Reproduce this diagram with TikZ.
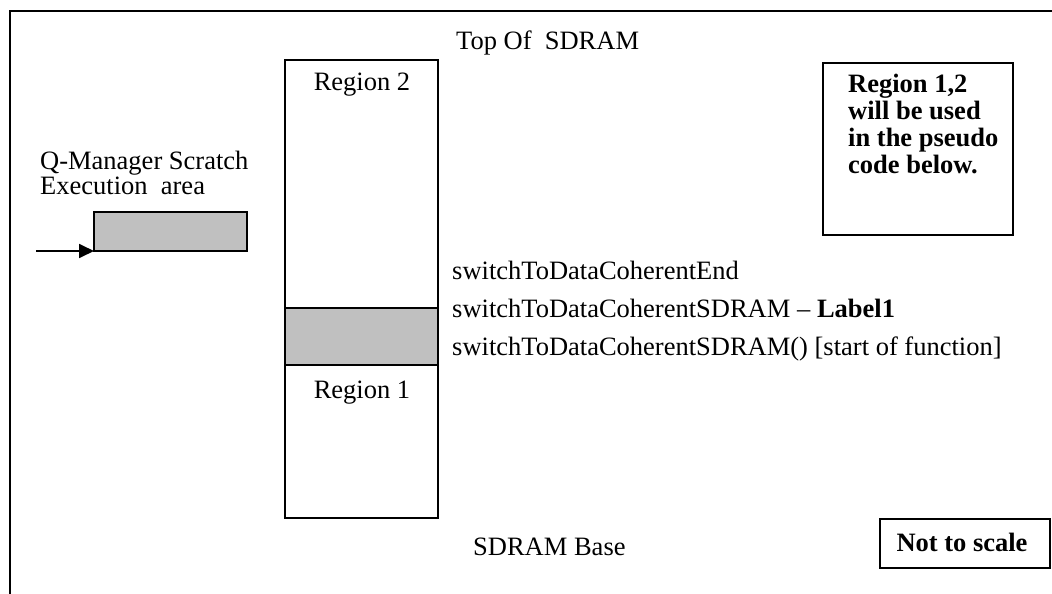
\documentclass[tikz,border=0pt]{standalone}
\usepackage{fontspec}
\setmainfont{Liberation Serif}
\usetikzlibrary{arrows.meta}
\definecolor{shade}{HTML}{C0C0C0}
\begin{document}
\begin{tikzpicture}[x=1pt,y=-1pt,
  every node/.style={font=\fontsize{26.5}{30}\selectfont},
  blk/.style={draw, line width=1.3pt, inner sep=0pt, outer sep=0pt, anchor=north west},
  lbl/.style={anchor=base west, inner sep=0pt},
  mid/.style={anchor=base, inner sep=0pt},
  frameline/.style={line width=2pt}]
\useasboundingbox (0,0) rectangle (1052,594);

% outer frame (only left and top edges fall inside the page)
\draw[frameline] (10,594) -- (10,11) -- (1052,11);

% SDRAM column: upper region, shaded band, lower region
\node[blk, minimum width=153pt, minimum height=248pt] (upper) at (285,60) {};
\node[blk, fill=shade, minimum width=153pt, minimum height=57pt] (band) at (285,308) {};
\node[blk, minimum width=153pt, minimum height=153pt] (lower) at (285,365) {};
\node[mid] (r2) at (362,90) {Region 2};
\node[mid] (r1) at (362,398) {Region 1};

% address labels
\node[lbl] (top) at (456,50) {Top Of\ \ SDRAM};
\node[lbl] (cend) at (452,279) {switchToDataCoherentEnd};
\node[lbl] (clab) at (452,317) {switchToDataCoherentSDRAM -- \textbf{Label1}};
\node[lbl] (cstart) at (452,355) {switchToDataCoherentSDRAM() [start of function]};
\node[lbl] (base) at (473,555) {SDRAM Base};

% scratch execution area
\node[lbl] (qm1) at (40,169) {Q-Manager Scratch};
\node[lbl] (qm2) at (40,194) {Execution\ \ area};
\node[blk, fill=shade, minimum width=153pt, minimum height=39pt] (qbox) at (94,212) {};
\coordinate (qin) at (36,251);
\draw[line width=1.8pt, -{Triangle[length=15pt,width=14pt]}] (qin) -- (qbox.south west);

% note boxes
\node[blk, minimum width=190pt, minimum height=172pt] (note) at (823,63) {};
\node[anchor=north west, inner sep=0pt, align=left,
      font=\fontsize{26.5}{27}\selectfont\bfseries] (notetxt) at (848,74)
  {Region 1,2\\will be used\\in the pseudo\\code below.};
\node[blk, minimum width=170pt, minimum height=49pt] (scale) at (880,519) {};
\node[mid, font=\fontsize{26.5}{30}\selectfont\bfseries] (scaletxt) at (962,551) {Not to scale};
\end{tikzpicture}
\end{document}
